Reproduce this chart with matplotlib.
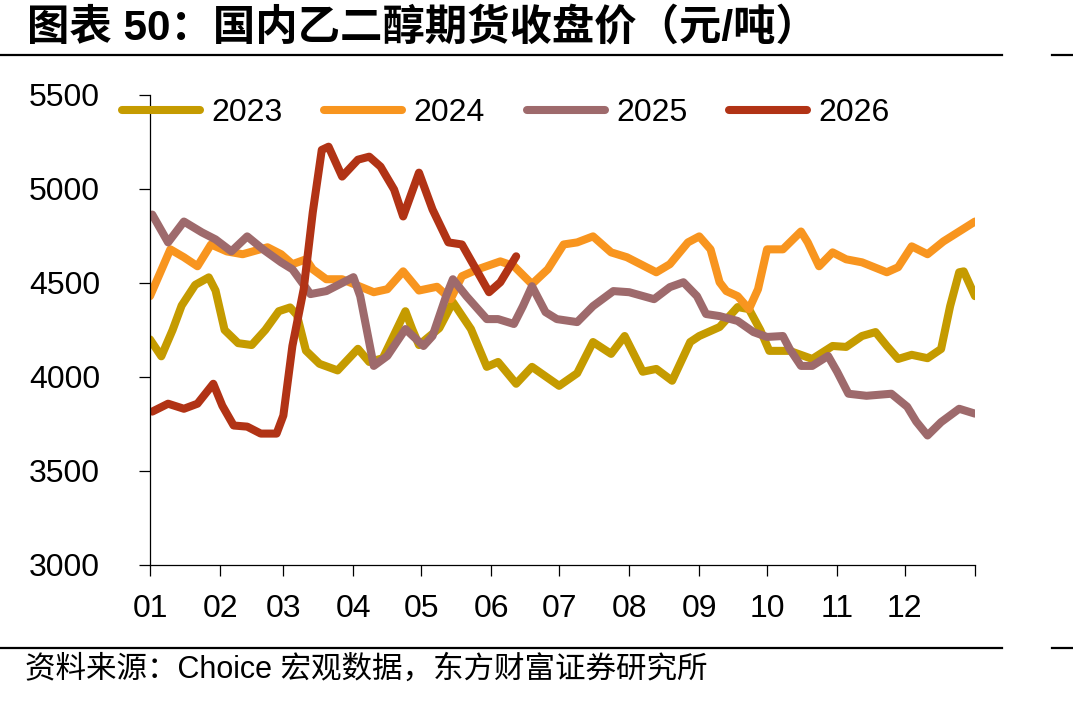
import matplotlib
matplotlib.use("Agg")
import matplotlib.pyplot as plt
from matplotlib.lines import Line2D

# 数据：横轴为一年中的第几天（0 = 1月1日），纵轴为收盘价（元/吨）
days_2023 = [0, 5, 10, 14, 20, 26, 29, 33, 39, 45, 51, 57, 62, 65, 69, 75, 83, 92, 97, 103,
             113, 116, 119, 125, 128, 134, 142, 149, 154, 162, 169, 181, 189, 196, 204, 210,
             218, 224, 231, 239, 243, 252, 260, 265, 270, 274, 283, 293, 302, 308, 315, 321,
             326, 331, 337, 344, 350, 354, 358, 360, 365]
vals_2023 = [4200, 4110, 4250, 4380, 4490, 4530, 4460, 4250, 4180, 4170, 4250, 4350, 4370, 4330,
             4140, 4070, 4035, 4150, 4080, 4100, 4350, 4255, 4170, 4230, 4260, 4398, 4255, 4054,
             4080, 3964, 4054, 3953, 4020, 4186, 4123, 4218, 4028, 4043, 3980, 4186, 4218, 4266,
             4372, 4361, 4250, 4139, 4139, 4096, 4165, 4160, 4218, 4239, 4165, 4096, 4118, 4100,
             4149, 4377, 4557, 4562, 4430]

days_2024 = [0, 9, 15, 21, 27, 34, 41, 52, 58, 63, 69, 72, 78, 85, 99, 105, 112, 119, 127, 133,
             138, 145, 155, 161, 169, 176, 183, 189, 196, 204, 211, 224, 230, 238, 243, 248, 252,
             255, 260, 265, 269, 273, 280, 288, 291, 296, 302, 308, 315, 326, 331, 337, 344, 351,
             358, 365]
vals_2024 = [4430, 4679, 4637, 4589, 4705, 4668, 4653, 4690, 4653, 4600, 4626, 4573, 4520, 4520,
             4451, 4467, 4562, 4460, 4480, 4414, 4536, 4573, 4615, 4590, 4494, 4573, 4705, 4716,
             4748, 4663, 4637, 4557, 4600, 4716, 4748, 4679, 4504, 4457, 4430, 4361, 4467, 4679,
             4679, 4774, 4716, 4589, 4663, 4626, 4610, 4557, 4584, 4695, 4653, 4721, 4774, 4827]

days_2025 = [1, 8, 15, 23, 29, 36, 43, 50, 58, 63, 71, 78, 90, 93, 99, 105, 113, 121, 125, 131,
             134, 140, 149, 154, 161, 165, 169, 175, 180, 189, 196, 205, 212, 223, 230, 236, 242,
             246, 252, 260, 267, 273, 280, 283, 288, 293, 300, 304, 309, 317, 328, 335, 339, 344,
             350, 358, 365]
vals_2025 = [4864, 4716, 4827, 4769, 4732, 4668, 4748, 4679, 4610, 4573, 4441, 4457, 4531, 4430,
             4059, 4112, 4255, 4165, 4218, 4430, 4520, 4430, 4308, 4308, 4282, 4377, 4483, 4345,
             4308, 4292, 4377, 4457, 4451, 4414, 4478, 4504, 4430, 4335, 4324, 4298, 4239, 4213,
             4218, 4149, 4059, 4059, 4112, 4028, 3911, 3900, 3911, 3842, 3763, 3689, 3760, 3831,
             3805]

days_2026 = [1, 8, 15, 21, 28, 32, 37, 43, 49, 56, 59, 63, 68, 72, 76, 79, 85, 92, 97, 102, 108,
             112, 119, 125, 132, 138, 145, 150, 155, 162]
vals_2026 = [3816, 3858, 3831, 3858, 3964, 3847, 3742, 3736, 3699, 3699, 3795, 4165, 4467, 4875,
             5208, 5225, 5066, 5156, 5172, 5119, 4997, 4854, 5087, 4891, 4716, 4705, 4557, 4451,
             4504, 4642]

month_starts = [0, 31, 59, 90, 120, 151, 181, 212, 243, 273, 304, 334, 365]
month_labels = ["01", "02", "03", "04", "05", "06", "07", "08", "09", "10", "11", "12", ""]
y_ticks = [3000, 3500, 4000, 4500, 5000, 5500]

series = [
    ("2023", days_2023, vals_2023, "#C59B00"),
    ("2024", days_2024, vals_2024, "#F8951F"),
    ("2025", days_2025, vals_2025, "#9E6A6C"),
    ("2026", days_2026, vals_2026, "#B13315"),
]

W, H = 1073, 701
fig = plt.figure(figsize=(W / 100, H / 100), dpi=100)
ax = fig.add_axes([150 / W, 1 - 565 / H, (975 - 150) / W, (565 - 95) / H])

for name, d, v, c in series:
    ax.plot(d, v, color=c, lw=5.8, label=name, solid_capstyle="round", solid_joinstyle="round")

ax.set_xlim(0, 365)
ax.set_ylim(3000, 5500)
ax.set_xticks(month_starts)
ax.set_xticklabels(month_labels)
ax.set_yticks(y_ticks)

for s in ["top", "right"]:
    ax.spines[s].set_visible(False)
for s in ["left", "bottom"]:
    ax.spines[s].set_linewidth(0.9)

ax.tick_params(axis="both", direction="out", length=8, width=0.9, labelsize=23)
ax.tick_params(axis="y", pad=28)
ax.tick_params(axis="x", pad=13)
for lab in ax.get_xticklabels() + ax.get_yticklabels():
    lab.set_fontfamily("Liberation Sans")

leg = fig.legend(loc="center left", bbox_to_anchor=(122 / W, 1 - 113 / H), ncol=4,
                 frameon=False, borderpad=0, borderaxespad=0, handlelength=2.45,
                 handletextpad=0.35, columnspacing=1.3,
                 prop={"family": "Liberation Sans", "size": 23})

# 标题与来源
fig.text(27 / W, 1 - 28 / H, "图表 50：国内乙二醇期货收盘价（元/吨）", fontsize=30.5,
         fontweight="bold", family=["Liberation Sans", "Noto Sans CJK SC"], va="center", ha="left")
fig.text(25 / W, 1 - 670 / H, "资料来源：Choice 宏观数据，东方财富证券研究所", fontsize=22,
         family=["Liberation Sans", "Noto Sans CJK SC"], va="center", ha="left")

# 分隔线
for yy in [55, 648]:
    fig.add_artist(Line2D([0, 1002 / W], [1 - yy / H] * 2, color="black", lw=1.6))
    fig.add_artist(Line2D([1052 / W, 1], [1 - yy / H] * 2, color="black", lw=1.6))

fig.savefig("out.png", dpi=100)
